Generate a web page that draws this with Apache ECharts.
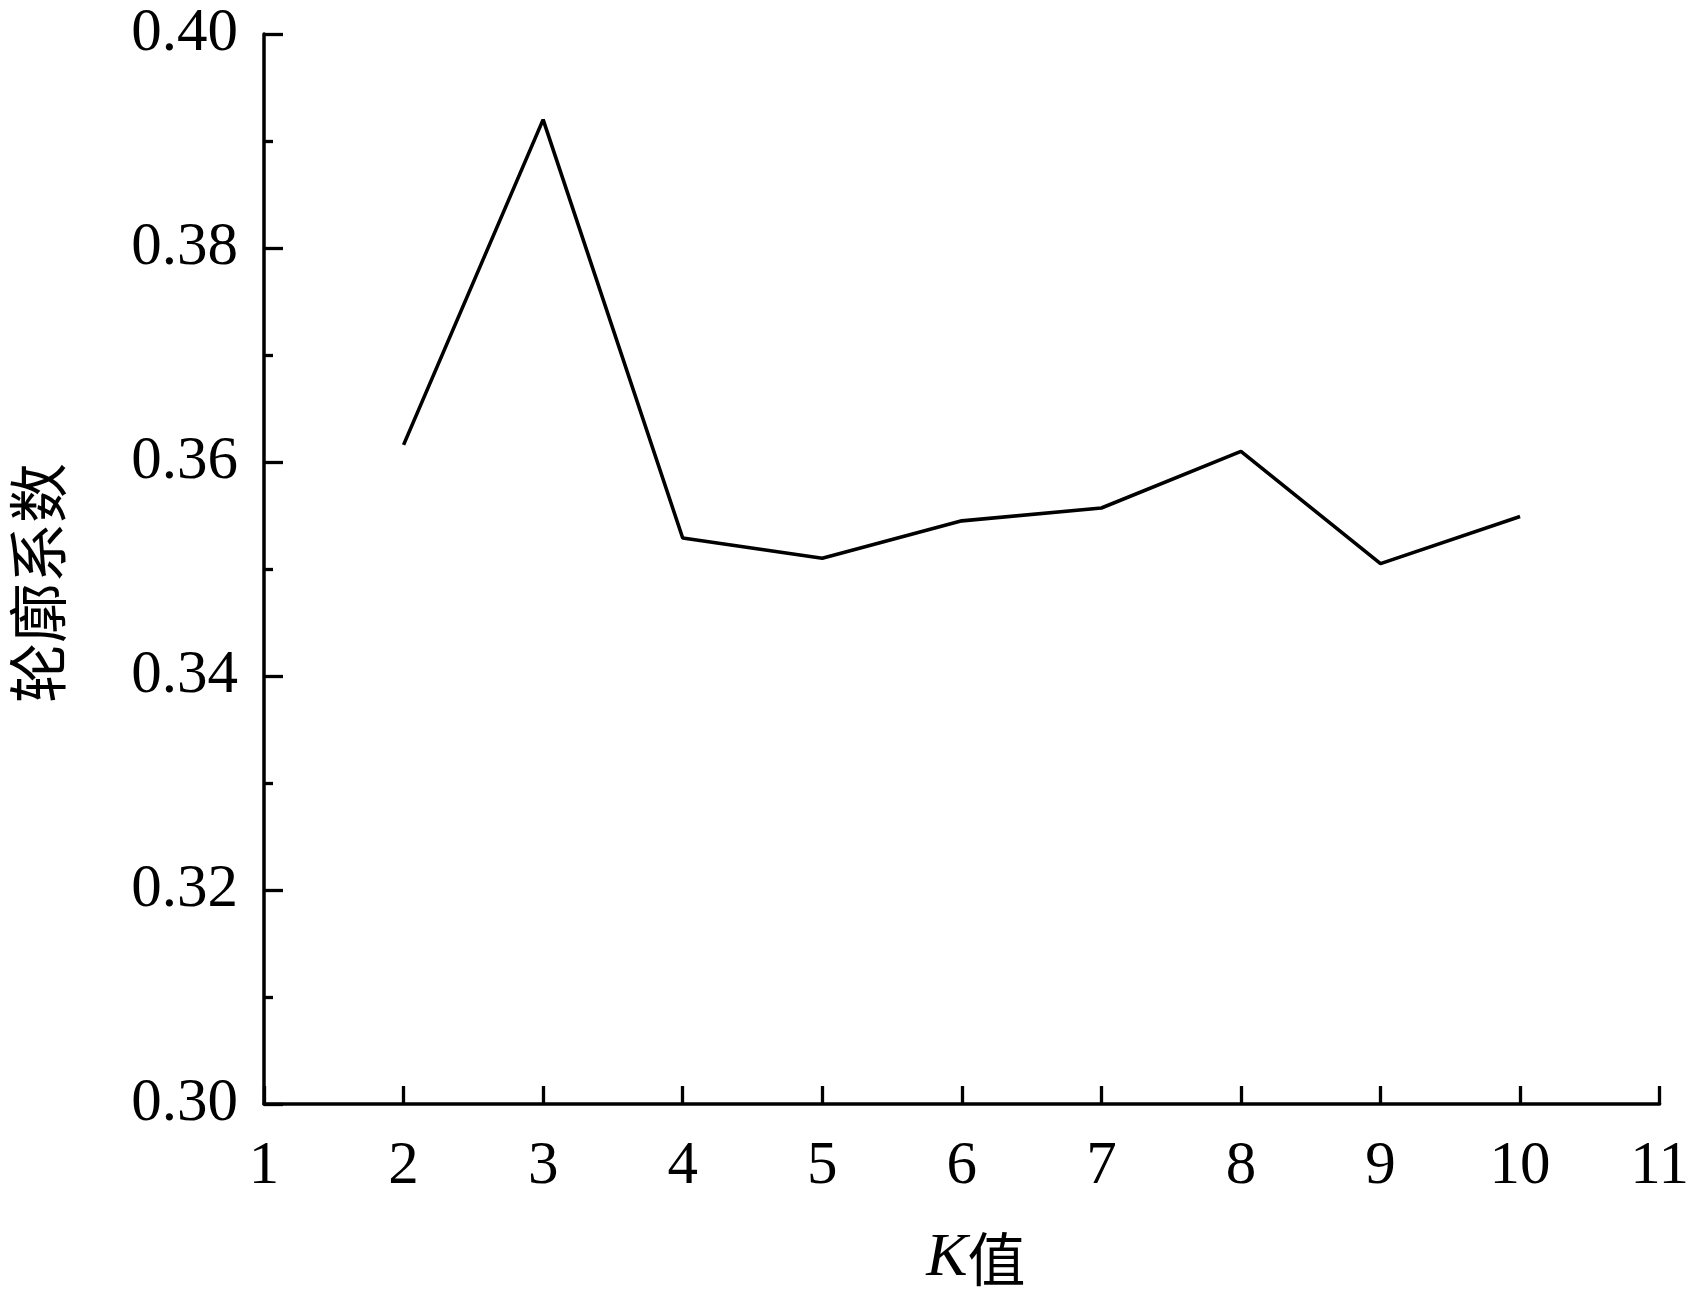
<!DOCTYPE html>
<html>
<head>
<meta charset="utf-8">
<script src="https://cdn.jsdelivr.net/npm/echarts@6/dist/echarts.min.js"></script>
<style>
html,body{margin:0;padding:0;background:#fff;}
#chart{width:1692px;height:1302px;}
</style>
</head>
<body>
<div id="chart"></div>
<script>
const kValues = [2, 3, 4, 5, 6, 7, 8, 9, 10];
const silhouette = [0.3616, 0.3920, 0.3529, 0.3510, 0.3545, 0.3557, 0.3610, 0.3505, 0.3549];
const xAxisName = '值';
const yAxisName = '轮廓系数';

const serif = "'Liberation Serif', 'Times New Roman', 'Noto Sans CJK SC', serif";
const cjk = "'Noto Sans CJK SC', serif";
const chart = echarts.init(document.getElementById('chart'));
const seriesData = kValues.map((k, i) => [k, silhouette[i]]);

chart.setOption({
  backgroundColor: '#ffffff',
  animation: false,
  grid: { left: 256, right: 23, top: 34, bottom: 198, containLabel: false },
  xAxis: {
    type: 'value', min: 1, max: 11, interval: 1,
    name: '{k|K}{c|' + xAxisName + '}',
    nameLocation: 'middle', nameGap: 124,
    nameTextStyle: {
      padding: [0, 0, 0, 28],
      rich: {
        k: { fontFamily: serif, fontStyle: 'italic', fontSize: 62, color: '#000' },
        c: { fontFamily: cjk, fontSize: 58, color: '#000' }
      }
    },
    axisLine: { show: true, lineStyle: { color: '#000', width: 3.5 } },
    axisTick: { show: true, inside: true, length: 18, lineStyle: { color: '#000', width: 3.3 } },
    minorTick: { show: false },
    splitLine: { show: false },
    axisLabel: { color: '#000', fontFamily: serif, fontSize: 61, margin: 32, showMinLabel: true, showMaxLabel: true }
  },
  yAxis: {
    type: 'value', min: 0.30, max: 0.40, interval: 0.02,
    name: yAxisName, nameLocation: 'middle', nameGap: 196,
    nameTextStyle: { fontFamily: cjk, fontSize: 60, color: '#000', padding: [0, 28, 0, 0] },
    axisLine: { show: true, lineStyle: { color: '#000', width: 3.5 } },
    axisTick: { show: true, inside: true, length: 19, lineStyle: { color: '#000', width: 3.3 } },
    minorTick: { show: true, splitNumber: 2, length: 9, lineStyle: { color: '#000', width: 3.3 } },
    splitLine: { show: false },
    axisLabel: {
      color: '#000', fontFamily: serif, fontSize: 61, margin: 26,
      formatter: v => v.toFixed(2)
    }
  },
  series: [{
    type: 'line',
    data: seriesData,
    symbol: 'none',
    lineStyle: { color: '#000', width: 3.6 }
  }]
});
</script>
</body>
</html>
